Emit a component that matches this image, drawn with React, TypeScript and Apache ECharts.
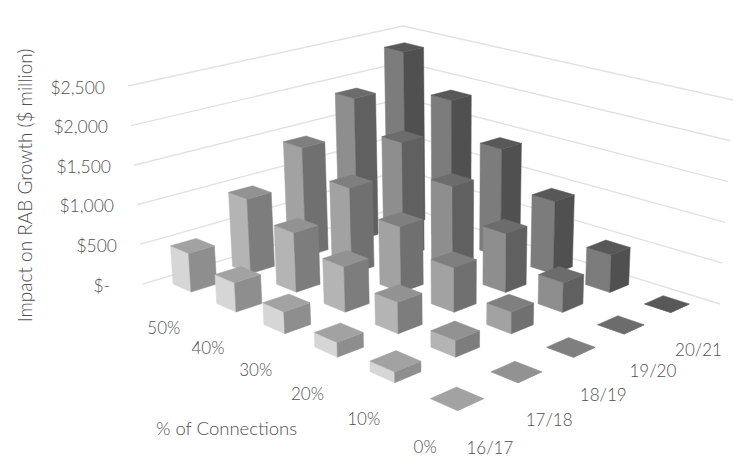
import React, { useEffect, useRef } from "react";
import * as echarts from "echarts";

const pctLabels = ["0%", "10%", "20%", "30%", "40%", "50%"];
const yearLabels = ["16/17", "17/18", "18/19", "19/20", "20/21"];
const values1617 = [0, 130, 182, 275, 374, 502];
const values1718 = [0, 206, 396, 580, 769, 979];
const values1819 = [0, 275, 568, 848, 1127, 1444];
const values1920 = [0, 379, 762, 1147, 1515, 1907];
const values2021 = [0, 490, 956, 1432, 1886, 2358];
const allValues = [values1617, values1718, values1819, values1920, values2021];
const gridTicks = [0, 500, 1000, 1500, 2000, 2500];
const leftFaces = ["#d6d6d6", "#b4b4b4", "#a2a2a2", "#8e8e8e", "#7c7c7c"];
const rightFaces = ["#8e8e8e", "#7d7d7d", "#707070", "#606060", "#505050"];
const topFaces = ["#a2a2a2", "#929292", "#7f7f7f", "#6c6c6c", "#585858"];

// Layout of the 3D view: floor corners, vertical vanishing point, wall corners
const floorF = [458, 428], floorR = [720, 304], floorB = [407, 206], floorL = [143, 284];
const V = [457, 4430];
const backTopY = 26;
const depthExponent = 0.62;
const wallBottom = [[143, 284], [403, 206], [720, 304]];
const wallTop = [[128, 86], [403, 26], [733, 100]];

const sx = floorF[0] - floorR[0] + floorB[0] - floorL[0], sy = floorF[1] - floorR[1] + floorB[1] - floorL[1];
const dx1 = floorR[0] - floorB[0], dx2 = floorL[0] - floorB[0], dy1 = floorR[1] - floorB[1], dy2 = floorL[1] - floorB[1];
const den = dx1 * dy2 - dx2 * dy1;
const g = (sx * dy2 - dx2 * sy) / den, h = (dx1 * sy - sx * dy1) / den;
const a = floorR[0] - floorF[0] + g * floorR[0], b = floorL[0] - floorF[0] + h * floorL[0];
const d = floorR[1] - floorF[1] + g * floorR[1], e = floorL[1] - floorF[1] + h * floorL[1];
const wB = g + h + 1;
const K = (wB * (backTopY - floorB[1])) / (V[1] - backTopY);

// u: along years, v: along % of connections, frac: share of the value axis
function projectBar(u: number, v: number, frac: number) {
  const w = g * u + h * v + 1;
  const x = (a * u + b * v + floorF[0]) / w;
  const y = (d * u + e * v + floorF[1]) / w;
  const k = K * frac;
  const t = k / (wB * Math.pow(w / wB, depthExponent) + k);
  return [x + (V[0] - x) * t, y + (V[1] - y) * t];
}
const wallPoint = (i: number, f: number) => [
  wallBottom[i][0] + (wallTop[i][0] - wallBottom[i][0]) * f,
  wallBottom[i][1] + (wallTop[i][1] - wallBottom[i][1]) * f,
];

const nY = yearLabels.length, nP = pctLabels.length;
const halfU = 0.21 / nY, halfV = 0.21 / nP;

const barData: number[][] = [];
for (let p = nP - 1; p >= 0; p--) {
  for (let y = nY - 1; y >= 0; y--) {
    barData.push([y, p, allValues[y][p]]);
  }
}

const font = "Lato, 'Open Sans', sans-serif";
const textStyle = { fontFamily: font, fontWeight: 300, fontSize: 17, fill: "#505050" };
const face = (points: number[][], color: string) => ({
  type: "polygon",
  shape: { points },
  style: { fill: color, stroke: color, lineWidth: 0.5 },
});

export default function App() {
  const ref = useRef<HTMLDivElement>(null);
  useEffect(() => {
    const chart = echarts.init(ref.current!, null, { renderer: "svg" });
    const fracOf = (api: any, val: number) => {
      const y0 = api.coord([0, 0])[1], y1 = api.coord([0, 2500])[1];
      return (api.coord([0, val])[1] - y0) / (y1 - y0);
    };
    chart.setOption({
      animation: false,
      backgroundColor: "#ffffff",
      textStyle: { fontFamily: font },
      grid: { left: 121, right: 20, top: 86, bottom: 189 },
      xAxis: { type: "value", min: 0, max: 1, show: false },
      yAxis: {
        type: "value",
        min: 0,
        max: 2500,
        interval: 500,
        name: "Impact on RAB Growth ($ million)",
        nameLocation: "middle",
        nameGap: 87,
        nameTextStyle: { color: "#505050", fontSize: 19, fontWeight: 300, fontFamily: font },
        axisLine: { show: false },
        axisTick: { show: false },
        splitLine: { show: false },
        axisLabel: { show: false },
      },
      series: [
        {
          type: "custom",
          silent: true,
          clip: false,
          data: gridTicks.map((t) => [0, t]),
          renderItem: (_: any, api: any) => {
            const f = fracOf(api, api.value(1));
            return {
              type: "polyline",
              shape: { points: [wallPoint(0, f), wallPoint(1, f), wallPoint(2, f)] },
              style: { stroke: "#e2e2e2", lineWidth: 1.4, fill: "none" },
            };
          },
        },
        {
          type: "custom",
          silent: true,
          clip: false,
          data: gridTicks.map((t) => [0, t]),
          renderItem: (_: any, api: any) => {
            const t = api.value(1);
            const pt = wallPoint(0, fracOf(api, t));
            return {
              type: "text",
              x: pt[0] - (t === 0 ? 33 : 23),
              y: pt[1] + 1,
              style: {
                ...textStyle,
                fontSize: 17.5,
                text: t === 0 ? "$-" : "$" + t.toLocaleString("en-US"),
                textAlign: "right",
                textVerticalAlign: "middle",
              },
            };
          },
        },
        {
          type: "custom",
          silent: true,
          clip: false,
          data: barData,
          renderItem: (_: any, api: any) => {
            const y = api.value(0), p = api.value(1);
            const f = fracOf(api, api.value(2));
            const u = (y + 0.5) / nY, v = (p + 0.5) / nP;
            const fb = projectBar(u - halfU, v - halfV, 0), ft = projectBar(u - halfU, v - halfV, f);
            const lb = projectBar(u - halfU, v + halfV, 0), lt = projectBar(u - halfU, v + halfV, f);
            const rb = projectBar(u + halfU, v - halfV, 0), rt = projectBar(u + halfU, v - halfV, f);
            const bt = projectBar(u + halfU, v + halfV, f);
            return {
              type: "group",
              children: [
                face([fb, lb, lt, ft], leftFaces[y]),
                face([fb, rb, rt, ft], rightFaces[y]),
                face([ft, lt, bt, rt], topFaces[y]),
              ],
            };
          },
        },
        {
          type: "custom",
          silent: true,
          clip: false,
          data: pctLabels.map((_, i) => [0, i]),
          renderItem: (_: any, api: any) => {
            const i = api.value(1);
            const pt = projectBar(0, (i + 0.5) / nP, 0);
            return {
              type: "text",
              x: pt[0],
              y: pt[1] + 34,
              style: { ...textStyle, text: pctLabels[i], textAlign: "center", textVerticalAlign: "middle" },
            };
          },
        },
        {
          type: "custom",
          silent: true,
          clip: false,
          data: yearLabels.map((_, i) => [0, i]),
          renderItem: (_: any, api: any) => {
            const i = api.value(1);
            const pt = projectBar((i + 0.5) / nY, 0, 0);
            return {
              type: "text",
              x: pt[0],
              y: pt[1] + 35,
              style: { ...textStyle, text: yearLabels[i], textAlign: "center", textVerticalAlign: "middle" },
            };
          },
        },
      ],
      graphic: [
        {
          type: "text",
          left: 156,
          top: 418,
          style: { ...textStyle, text: "% of Connections", fontSize: 18.5 },
        },
      ],
    });
    return () => chart.dispose();
  }, []);
  return <div ref={ref} style={{ position: "fixed", left: 0, top: 0, width: 747, height: 474 }} />;
}
